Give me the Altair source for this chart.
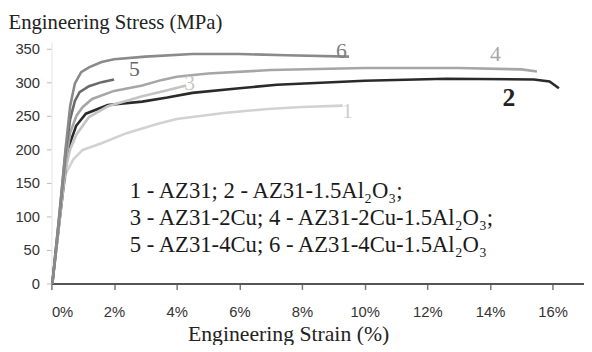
import altair as alt
import pandas as pd

# ---- data ----
c1_x = [0.03, 0.2, 0.35, 0.47, 0.7, 1.0, 1.6, 2.4, 3.4, 4.0, 5.5, 6.9, 8.0, 9.3]
c1_y = [0, 70, 130, 165, 185, 199, 209, 224, 238, 245, 254, 260, 263, 265]

c2_x = [0.03, 0.25, 0.45, 0.57, 0.79, 1.1, 1.8, 2.9, 3.7, 4.5, 6.0, 7.2, 10.0, 12.6, 15.4, 15.9, 16.2]
c2_y = [0, 90, 170, 206, 235, 253, 266, 271, 277, 284, 291, 296, 302, 305, 304, 301, 291]

c3_x = [0.03, 0.25, 0.45, 0.6, 0.8, 1.2, 1.8, 2.9, 3.7, 4.3]
c3_y = [0, 90, 170, 200, 222, 248, 264, 279, 288, 295]

c4_x = [0.03, 0.25, 0.45, 0.6, 0.8, 1.0, 1.3, 2.0, 2.9, 3.5, 4.0, 5.0, 7.0, 10.0, 13.0, 15.0, 15.5]
c4_y = [0, 95, 180, 225, 250, 263, 275, 287, 295, 303, 308, 313, 318, 321, 321, 319, 316]

c5_x = [0.03, 0.25, 0.45, 0.6, 0.75, 0.9, 1.2, 1.6, 2.0]
c5_y = [0, 100, 195, 245, 272, 285, 294, 300, 304]

c6_x = [0.03, 0.25, 0.45, 0.6, 0.75, 0.95, 1.2, 1.6, 2.0, 3.0, 4.5, 6.0, 7.5, 9.5]
c6_y = [0, 100, 200, 265, 298, 315, 322, 330, 334, 338, 342, 342, 340, 338]

curve_ids = ["1", "2", "3", "4", "5", "6"]
curve_colors = ["#d2d2d2", "#2a2a2a", "#c4c4c4", "#a6a6a6", "#6a6a6a", "#8a8a8a"]

label_text = ["1", "3", "4", "5", "6"]
label_x = [9.45, 4.41, 14.17, 2.65, 9.26]
label_y = [257, 299, 342, 319, 347]
label_colors = ["#cfcfcf", "#c8c8c8", "#a8a8a8", "#666666", "#808080"]

bold_label_text = ["2"]
bold_label_x = [14.6]
bold_label_y = [276]

legend_lines = [
    "1 - AZ31;  2 - AZ31-1.5Al\u2082O\u2083;",
    "3 -  AZ31-2Cu; 4 -  AZ31-2Cu-1.5Al\u2082O\u2083;",
    "5 - AZ31-4Cu; 6 - AZ31-4Cu-1.5Al\u2082O\u2083",
]
legend_x = [2.5, 2.5, 2.5]
legend_y = [137, 97, 57]

x_ticks = [0, 2, 4, 6, 8, 10, 12, 14, 16]
y_ticks = [0, 50, 100, 150, 200, 250, 300, 350]

SERIF = "Liberation Serif"
SANS = "Liberation Sans"

# ---- build tables ----
xs = [c1_x, c2_x, c3_x, c4_x, c5_x, c6_x]
ys = [c1_y, c2_y, c3_y, c4_y, c5_y, c6_y]
rows = []
for cid, cx, cy in zip(curve_ids, xs, ys):
    for i, (a, b) in enumerate(zip(cx, cy)):
        rows.append({"curve": cid, "strain": a, "stress": b, "order": i})
df = pd.DataFrame(rows)

lab = pd.DataFrame({"t": label_text, "x": label_x, "y": label_y, "c": label_colors})
blab = pd.DataFrame({"t": bold_label_text, "x": bold_label_x, "y": bold_label_y})
leg = pd.DataFrame({"t": legend_lines, "x": legend_x, "y": legend_y})

xscale = alt.Scale(domain=[0, 17], nice=False, zero=False)
yscale = alt.Scale(domain=[0, 360], nice=False, zero=False)

xaxis = alt.Axis(values=x_ticks, labelExpr="datum.value + '%'", title="Engineering Strain (%)",
                 grid=False, domainColor="#555555", domainWidth=2, tickColor="#777777",
                 tickSize=6, tickWidth=1.5, labelPadding=15, labelFont=SANS,
                 labelFontSize=15, labelColor="#333333", labelOverlap=False,
                 titleFont=SERIF, titleFontSize=22, titleFontWeight="normal",
                 titleColor="#222222", titleX=240, titleY=58, titleBaseline="alphabetic",
                 titleAnchor="start", titleAlign="center")
yaxis = alt.Axis(values=y_ticks, title="Engineering Stress (MPa)", grid=False,
                 domainColor="#e4e4e4", domainWidth=1, tickColor="#bbbbbb", tickSize=5,
                 labelPadding=7, labelFont=SANS, labelFontSize=15, labelOverlap=False,
                 labelColor="#333333", titleFont=SERIF, titleFontSize=21,
                 titleFontWeight="normal", titleColor="#222222", titleAngle=0,
                 titleX=-44, titleY=-14, titleAlign="left", titleBaseline="alphabetic",
                 titleAnchor="start")

X = lambda f: alt.X(f, scale=xscale, axis=xaxis, title="Engineering Strain (%)")
Y = lambda f: alt.Y(f, scale=yscale, axis=yaxis, title="Engineering Stress (MPa)")

lines = alt.Chart(df).mark_line(strokeWidth=2.6).encode(
    x=X("strain:Q"),
    y=Y("stress:Q"),
    color=alt.Color("curve:N", scale=alt.Scale(domain=curve_ids, range=curve_colors), legend=None),
    order="order:Q",
)

labels = alt.Chart(lab).mark_text(font=SERIF, fontSize=22, baseline="middle",
                                  align="center").encode(
    x=X("x:Q"),
    y=Y("y:Q"),
    text="t:N",
    color=alt.Color("c:N", scale=None),
)

bold_labels = alt.Chart(blab).mark_text(font=SERIF, fontSize=26, fontWeight="bold",
                                        baseline="middle", align="center", color="#222222").encode(
    x=X("x:Q"),
    y=Y("y:Q"),
    text="t:N",
)

legend_text = alt.Chart(leg).mark_text(font=SERIF, fontSize=23, align="left",
                                        baseline="middle", color="#1a1a1a").encode(
    x=X("x:Q"),
    y=Y("y:Q"),
    text="t:N",
)

chart = alt.layer(lines, labels, bold_labels, legend_text).properties(
    width=540, height=245,
    background="white",
    autosize=alt.AutoSizeParams(type="none"),
    padding={"left": 44, "top": 32, "right": 0, "bottom": 60},
).configure_view(stroke=None).configure_axis(
    titleFont=SERIF, labelFont=SANS
)

chart.save("out.html", embed_options={"renderer": "svg", "actions": False})
